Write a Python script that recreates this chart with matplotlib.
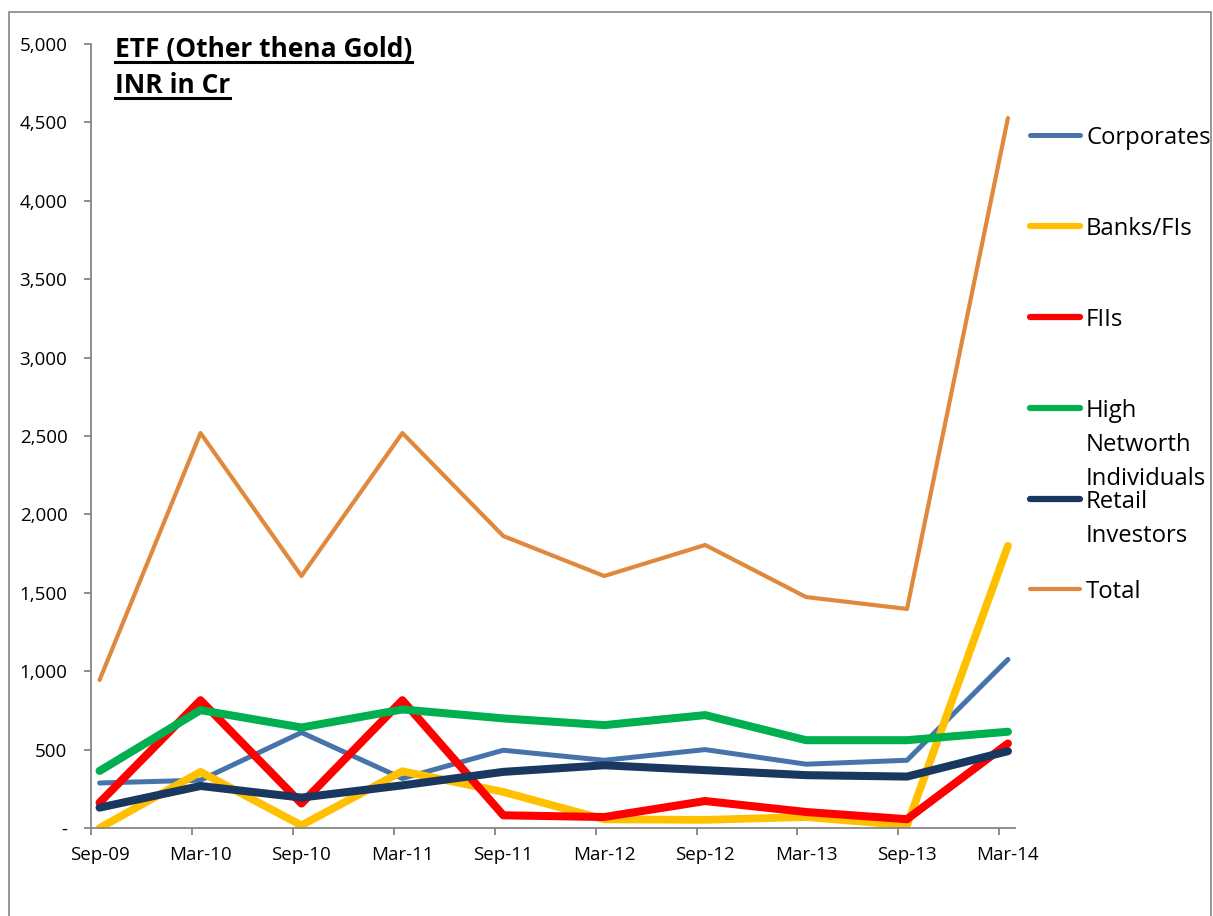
import matplotlib
matplotlib.use("Agg")
import matplotlib.pyplot as plt
from matplotlib.patches import Rectangle
from matplotlib.lines import Line2D
from matplotlib.ticker import FuncFormatter

plt.rcParams['font.family'] = ['Open Sans', 'DejaVu Sans']

# data (INR Cr)
periods = ['Sep-09', 'Mar-10', 'Sep-10', 'Mar-11', 'Sep-11', 'Mar-12',
           'Sep-12', 'Mar-13', 'Sep-13', 'Mar-14']
corporates = [287, 305, 609, 316, 496, 432, 500, 407, 432, 1075]
banks_fis = [0, 358, 17, 362, 230, 55, 52, 70, 17, 1800]
fiis = [162, 815, 156, 815, 81, 70, 172, 102, 56, 539]
hni = [364, 752, 641, 756, 699, 656, 720, 560, 560, 614]
retail = [130, 268, 194, 272, 358, 400, 369, 337, 328, 490]
total = [944, 2519, 1607, 2519, 1862, 1607, 1805, 1473, 1397, 4528]

series = [
    ('Corporates', corporates, '#4674AA', 3.6),
    ('Banks/FIs', banks_fis, '#FFC000', 5.6),
    ('FIIs', fiis, '#FF0000', 5.8),
    ('High\nNetworth\nIndividuals', hni, '#00B050', 5.8),
    ('Retail\nInvestors', retail, '#1A3760', 5.8),
    ('Total', total, '#E0893D', 3.0),
]

W, H = 1213, 916
fig = plt.figure(figsize=(W / 100, H / 100), dpi=100)
ax = fig.add_axes([91 / W, 1 - 828 / H, (1015 - 91) / W, (828 - 44) / H])

x = list(range(len(periods)))
for name, vals, color, lw in series:
    ax.plot(x, vals, color=color, lw=lw, solid_capstyle='round',
            solid_joinstyle='round')

ax.set_xlim(-0.075, 9.07)
ax.set_ylim(0, 5000)
ax.set_yticks(range(0, 5001, 500))
ax.yaxis.set_major_formatter(FuncFormatter(lambda v, p: '-' if v == 0 else f'{int(v):,}'))
ax.set_xticks(x)
ax.set_xticklabels(periods)
ax.set_xticks([i - 0.085 for i in x], minor=True)

grey = '#868686'
for s in ['top', 'right']:
    ax.spines[s].set_visible(False)
for s in ['left', 'bottom']:
    ax.spines[s].set_color(grey)
    ax.spines[s].set_linewidth(1.3)
ax.tick_params(axis='y', colors=grey, length=5, width=1.3, pad=12,
               labelcolor='black', labelsize=13.5)
ax.tick_params(axis='x', which='major', length=0, pad=13,
               labelcolor='black', labelsize=13.5)
ax.tick_params(axis='x', which='minor', colors=grey, length=5, width=1.3)

# title with underline
t1 = fig.text(115 / W, 1 - 57 / H, 'ETF (Other thena Gold)', fontsize=19,
              fontweight='bold', va='baseline')
t2 = fig.text(115 / W, 1 - 93 / H, 'INR in Cr', fontsize=19,
              fontweight='bold', va='baseline')
fig.canvas.draw()
r = fig.canvas.get_renderer()
for t, yb in [(t1, 57), (t2, 93)]:
    bb = t.get_window_extent(r)
    yy = 1 - (yb + 5) / H
    fig.add_artist(Line2D([bb.x0 / W, bb.x1 / W], [yy, yy], color='black',
                          lw=2.2, transform=fig.transFigure))

# legend drawn by hand (Excel-style stacked entries)
leg_y = [135, 226, 317, 408, 499, 589]
line_gap = 34
for (name, vals, color, lw), yp in zip(series, leg_y):
    fy = 1 - yp / H
    fig.add_artist(Line2D([1030 / W, 1080 / W], [fy, fy], color=color,
                          lw=min(lw, 4.5), solid_capstyle='round',
                          transform=fig.transFigure))
    for k, part in enumerate(name.split('\n')):
        fig.text(1086 / W, 1 - (yp + k * line_gap) / H, part, fontsize=17.2,
                 va='center_baseline', ha='left')

# outer chart border
fig.add_artist(Rectangle((9 / W, -0.01), (1211 - 9) / W, (916 - 12) / H + 0.01,
                         transform=fig.transFigure, fill=False, ec=grey, lw=1.2))

fig.savefig('out.png', dpi=100)
